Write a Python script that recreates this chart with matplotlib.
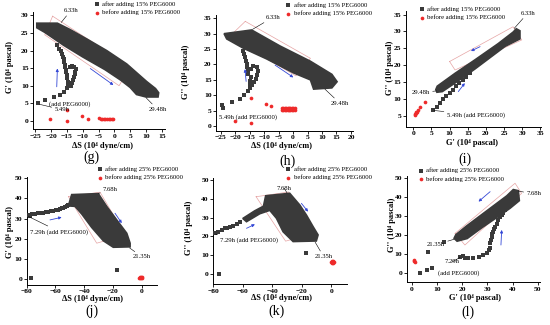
import matplotlib.pyplot as plt

plt.rcParams['font.family'] = ['Liberation Serif', 'DejaVu Serif']

W, H = 550, 325
DARK = '#3a3a3a'
RED = '#ee2a2a'
PINK = '#e6a4a4'
BLUE = '#3347d6'

# --- (g) G' vs dS, 15% PEG6000 ---
g_band_x = [-24.5, -18.0, -14.0, -8.7, -2.4, 3.9, 10.2, 13.0, 14.0, 13.8, 10.0, 7.0, 5.0, 2.0, -3.0, -10.0,
            -16.0, -22.0, -24.5]
g_band_y = [27.8, 27.8, 26.0, 23.3, 20.0, 16.2, 11.2, 9.2, 8.0, 6.8, 6.8, 7.5, 9.5, 11.6, 14.6, 18.2,
            21.5, 25.2, 26.5]
g_tail_x = [-24.0, -21.8, -19.2, -17.3, -16.0, -15.0, -14.5, -14.8, -15.0, -15.0, -15.2, -15.3, -15.5, -15.7,
            -16.0, -16.0, -16.3, -16.6, -17.0, -17.5, -18.2, -14.0, -13.6, -13.3, -13.0, -12.8, -12.5, -12.3,
            -12.1, -12.8, -13.5, -14.0]
g_tail_y = [5.0, 5.9, 6.7, 7.4, 8.1, 9.3, 10.2, 11.2, 12.3, 13.0, 13.8, 14.5, 15.2, 16.0, 16.8, 17.5, 18.3,
            19.0, 19.8, 20.5, 21.5, 22.5, 10.0, 10.8, 11.6, 12.4, 13.2, 14.0, 14.8, 15.4, 15.6, 15.2]
g_red_x = [-20.3, -15.0, -15.0, -10.3, -8.2, -4.8, -4.3, -3.8, -3.3, -2.8, -2.3, -1.8, -1.3, -0.8, -0.4]
g_red_y = [0.5, 3.0, 0.0, 1.4, 0.6, 0.7, 0.65, 0.6, 0.55, 0.5, 0.5, 0.45, 0.45, 0.4, 0.4]

# --- (h) G'' vs dS, 15% PEG6000 ---
h_band_x = [-23.8, -14.3, -4.5, 5.9, 13.4, 15.2, 13.4, 7.1, 6.0, 0.1, -9.1, -17.2, -22.9]
h_band_y = [30.0, 31.2, 26.0, 21.1, 16.8, 14.4, 12.4, 12.0, 15.0, 17.3, 21.8, 25.3, 28.3]
h_tail_x = [-24.6, -24.3, -21.2, -18.3, -16.9, -15.4, -15.0, -14.8, -14.7, -14.6, -15.4, -15.4, -16.0, -16.0,
            -16.3, -16.6, -16.9, -17.2, -14.3, -13.5, -12.8, -12.3, -12.0, -12.5, -13.7, -14.6]
h_tail_y = [6.8, 6.0, 7.9, 8.9, 10.2, 11.4, 12.4, 13.7, 14.7, 15.8, 16.9, 18.0, 19.1, 20.1, 21.2, 22.3, 23.3,
            24.4, 13.2, 14.2, 15.3, 16.7, 18.0, 19.1, 19.6, 18.5]
h_red_x = [-20.0, -14.5, -14.5, -9.5, -7.5, -3.9, -3.4, -2.9, -2.4, -1.9, -1.4, -0.9, -0.4, 0.1, 0.6,
           -3.9, -3.4, -2.9, -2.4, -1.9, -1.4, -0.9, -0.4, 0.1, 0.6]
h_red_y = [1.7, 0.9, 9.0, 7.3, 6.4, 5.3, 5.3, 5.3, 5.3, 5.3, 5.3, 5.3, 5.3, 5.3, 5.3,
           5.9, 5.9, 5.9, 5.9, 5.9, 5.9, 5.9, 5.9, 5.9, 5.9]

# --- (i) G'' vs G', 15% PEG6000 ---
i_band_x = [6.2, 6.6, 11.5, 17.0, 23.4, 27.5, 28.4, 29.4, 29.4, 25.3, 17.0, 12.4, 8.0, 6.5]
i_band_y = [12.8, 13.8, 17.6, 21.6, 26.4, 29.8, 30.8, 30.2, 27.8, 25.6, 18.9, 15.4, 12.2, 12.0]
i_tail_x = [5.5, 6.4, 7.3, 8.1, 9.0, 10.0, 10.9, 11.8, 12.7, 13.6, 14.5, 15.5]
i_tail_y = [6.8, 7.7, 8.9, 9.9, 10.9, 11.9, 12.8, 13.8, 14.6, 15.6, 16.6, 17.6]
i_red_x = [0.5, 0.6, 0.8, 1.0, 1.4, 0.7, 1.8, 3.2]
i_red_y = [5.3, 5.7, 6.0, 6.3, 6.6, 6.2, 7.6, 9.2]

# --- (j) G' vs dS, 25% PEG6000 ---
j_band_x = [-50.5, -48.7, -30.2, -24.3, -17.4, -10.4, -8.1, -8.1, -19.8, -26.7, -34.8, -41.7, -46.4, -50.5]
j_band_y = [37.5, 41.8, 42.3, 35.9, 29.3, 22.7, 17.8, 16.0, 15.8, 19.0, 25.6, 32.2, 36.0, 36.2]
j_tail_x = [-78.9, -77.5, -76.6, -74.3, -72.0, -70.2, -68.5, -66.8, -65.1, -63.3, -61.6, -59.8, -58.1,
            -56.9, -55.8, -54.6, -53.5, -52.3, -51.2, -77.0, -17.0]
j_tail_y = [31.8, 31.3, 32.1, 32.1, 32.6, 32.7, 32.9, 33.2, 33.4, 33.7, 33.9, 34.0, 34.2, 34.6, 35.0,
            35.2, 35.5, 36.0, 36.5, 0.8, 4.8]
j_red_x = [-1.6, -1.0, -0.4, 0.2, -1.3, -0.7, -0.1]
j_red_y = [0.6, 0.6, 0.6, 0.6, 1.1, 1.1, 1.1]

# --- (k) G'' vs dS, 25% PEG6000 ---
k_band_x = [-60.0, -52.0, -46.0, -44.5, -28.2, -21.4, -16.9, -12.4, -9.0, -10.2, -25.9, -32.7, -37.2, -41.7,
            -48.5, -57.5]
k_band_y = [29.5, 33.5, 36.0, 41.5, 42.8, 36.6, 31.3, 25.2, 20.8, 17.6, 17.3, 22.5, 29.6, 33.8, 32.0, 27.8]
k_tail_x = [-78.9, -76.6, -74.4, -72.1, -70.4, -68.7, -66.5, -64.2, -62.0, -76.0, -16.9]
k_tail_y = [21.7, 22.5, 23.4, 24.3, 24.6, 25.2, 25.7, 26.4, 27.5, 0.2, 11.1]
k_red_x = [0.0, 0.5, 1.0, 1.5, 0.8, 0.3]
k_red_y = [6.4, 6.2, 6.0, 6.3, 6.8, 6.9]

# --- (l) G'' vs G', 25% PEG6000 ---
l_band_x = [16.8, 17.5, 21.8, 29.7, 37.7, 40.3, 42.3, 42.7, 39.0, 33.0, 28.0, 22.0, 18.0]
l_band_y = [18.3, 20.2, 24.8, 32.6, 40.5, 43.8, 43.2, 38.0, 34.0, 28.5, 24.0, 18.2, 16.8]
l_tail_x = [19.2, 20.5, 21.2, 22.5, 24.5, 26.5, 28.4, 29.8, 30.7, 30.9, 31.1, 31.3, 31.7, 32.0, 32.4,
            32.8, 33.1, 33.7, 34.4, 35.0, 35.7, 36.4, 37.0, 3.3, 6.0, 7.9, 6.6, 13.0]
l_tail_y = [8.3, 9.0, 7.8, 7.8, 8.2, 8.7, 9.6, 10.5, 12.0, 13.1, 15.7, 17.5, 19.2, 20.5, 21.8, 23.0, 24.4,
            26.0, 27.9, 29.2, 30.5, 31.8, 33.1, 0.2, 1.7, 3.0, 11.1, 16.3]
l_red_x = [0.7, 0.9, 1.1]
l_red_y = [6.3, 6.8, 6.0]

leg15 = ["after adding 15% PEG6000", "before adding 15% PEG6000"]
leg25 = ["after adding 25% PEG6000", "before adding 25% PEG6000"]

fig = plt.figure(figsize=(5.5, 3.25), dpi=100)


def fx(px):
    return px / W


def fy(py):
    return 1 - py / H


def panel(box, band_x, band_y, tail_x, tail_y, red_x, red_y, labels):
    l, t, r, b = box
    ax = fig.add_axes([fx(l), fy(b), (r - l) / W, (b - t) / H])
    ax.fill(band_x, band_y, color=DARK, ec=DARK, lw=1.2, zorder=2)
    ax.scatter(tail_x, tail_y, s=6, marker='s', color=DARK, lw=0, zorder=3, label=labels[0])
    ax.scatter(red_x, red_y, s=7, color=RED, lw=0, zorder=3, label=labels[1])
    for side in ['top', 'right']:
        ax.spines[side].set_visible(False)
    for side in ['left', 'bottom']:
        ax.spines[side].set_linewidth(0.7)
    ax.tick_params(direction='out', length=2, width=0.6, labelsize=5.4, pad=1.2)
    return ax


def finish(ax, xlim, ylim, xticks, yticks, xlabel, ylabel, xl_pos, yl_pos, leg_pos, tag, tag_pos):
    ax.set_xlim(*xlim)
    ax.set_ylim(*ylim)
    ax.set_xticks(xticks)
    ax.set_yticks(yticks)
    for t in ax.get_xticklabels() + ax.get_yticklabels():
        t.set_fontweight('bold')
    ax.set_xlabel(xlabel, fontsize=6, fontweight='bold')
    ax.set_ylabel(ylabel, fontsize=6, fontweight='bold')
    ax.xaxis.set_label_coords(fx(xl_pos[0]), fy(xl_pos[1]), transform=fig.transFigure)
    ax.yaxis.set_label_coords(fx(yl_pos[0]), fy(yl_pos[1]), transform=fig.transFigure)
    ax.xaxis.label.set_va('center')
    ax.yaxis.label.set_va('center')
    ax.legend(loc='upper left', bbox_to_anchor=(fx(leg_pos[0] - 2), fy(leg_pos[1] - 4)),
              bbox_transform=fig.transFigure, frameon=False, borderpad=0, borderaxespad=0,
              handlelength=0.6, handletextpad=0.5, labelspacing=0.45, scatterpoints=1,
              prop={'size': 4.8})
    fig.text(fx(tag_pos[0]), fy(tag_pos[1]), tag, ha='center', va='center', fontsize=10)


def box(ax, xs, ys):
    ax.plot(xs + xs[:1], ys + ys[:1], color=PINK, lw=0.5, zorder=1)


def arrow(ax, start, end):
    ax.annotate('', xy=end, xytext=start,
                arrowprops=dict(arrowstyle='-|>', color=BLUE, lw=0.6, mutation_scale=4,
                                shrinkA=0, shrinkB=0), zorder=4)


def note(ax, text, txt, pt=None, ha='left'):
    props = None
    if pt is not None:
        props = dict(arrowstyle='-', lw=0.4, color='k', shrinkA=0, shrinkB=0)
    ax.annotate(text, xy=pt if pt is not None else txt, xytext=txt, fontsize=4.8, ha=ha, va='center',
                arrowprops=props, annotation_clip=False, zorder=5)


# --- (g) ---
ax = panel((33, 11.6, 165, 129.3), g_band_x, g_band_y, g_tail_x, g_tail_y, g_red_x, g_red_y, leg15)
box(ax, [-19.5, 5.0, 1.5, -22.0], [29.8, 15.4, 10.0, 24.5])
arrow(ax, (-18.2, 9.7), (-18.0, 14.9))
arrow(ax, (-7.6, 14.9), (-0.3, 10.2))
note(ax, "6.33h", (-16.1, 31.4), (-16.8, 28.0))
note(ax, "29.48h", (10.7, 3.3), (10.0, 6.6))
note(ax, "(add PEG6000)", (-20.5, 4.7))
note(ax, "5.49h", (-18.9, 3.2), (-23.6, 4.7))
finish(ax, (-25.7, 16), (-2.4, 31.1), range(-25, 16, 5), range(0, 31, 5),
       "ΔS (10⁴ dyne/cm)", "G' (10⁴ pascal)", (102, 146.5), (10, 66.7), (96.7, 5), "(g)", (91.7, 157))

# --- (h) ---
ax = panel((216, 15.2, 353.3, 130.7), h_band_x, h_band_y, h_tail_x, h_tail_y, h_red_x, h_red_y, leg15)
box(ax, [-16.5, 6.0, 1.0, -22.0], [34.0, 22.0, 16.3, 29.0])
arrow(ax, (-16.2, 14.5), (-16.6, 18.5))
arrow(ax, (-6.2, 19.8), (0.1, 15.8))
note(ax, "6.33h", (-9.5, 35.3), (-14.0, 31.4))
note(ax, "29.48h", (13.0, 7.4), (11.0, 12.0))
note(ax, "5.49h (add PEG6000)", (-25.5, 3.0))
finish(ax, (-26.6, 20.8), (-1.5, 36), range(-25, 21, 5), range(0, 36, 5),
       "ΔS (10⁴ dyne/cm)", "G'' (10⁴ pascal)", (281.7, 146.5), (186, 71.7), (288.3, 6), "(h)", (287.3, 161.7))

# --- (i) ---
ax = panel((405.7, 11.2, 541, 126.7), i_band_x, i_band_y, i_tail_x, i_tail_y, i_red_x, i_red_y, leg15)
box(ax, [10.0, 27.5, 29.9, 11.5], [21.1, 31.4, 27.5, 18.6])
arrow(ax, (18.4, 25.5), (15.9, 24.2))
arrow(ax, (12.4, 12.2), (14.2, 14.7))
note(ax, "6.33h", (29.5, 35.4), (27.8, 30.9))
note(ax, "29.48h", (-0.5, 11.9), (6.4, 12.4))
note(ax, "5.49h (add PEG6000)", (9.2, 5.3), (5.7, 6.6))
finish(ax, (-2.1, 35.2), (1.8, 36), range(0, 36, 5), range(5, 36, 5),
       "G' (10⁴ pascal)", "G'' (10⁴ pascal)", (471.7, 143.3), (390, 68), (421.7, 10), "(i)", (465, 159.5))

# --- (j) ---
ax = panel((26.7, 177, 156.7, 284.5), j_band_x, j_band_y, j_tail_x, j_tail_y, j_red_x, j_red_y, leg25)
box(ax, [-51.0, -29.0, -11.6, -31.3], [40.8, 43.0, 21.9, 17.8])
arrow(ax, (-63.8, 29.3), (-55.7, 30.6))
arrow(ax, (-18.6, 32.6), (-13.9, 27.7))
note(ax, "7.68h", (-27.0, 44.5), (-30.0, 42.4))
note(ax, "21.35h", (-6.0, 11.0), (-8.5, 15.5))
note(ax, "7.29h (add PEG6000)", (-77.5, 23.5), (-78.8, 31.0))
finish(ax, (-80, 10.4), (-2.6, 50.5), range(-80, 1, 20), range(0, 51, 10),
       "ΔS (10⁴ dyne/cm)", "G' (10⁴ pascal)", (92.7, 299), (10, 231.7), (100, 170), "(j)", (91.7, 311))

# --- (k) ---
ax = panel((213.3, 177.8, 346.7, 284.3), k_band_x, k_band_y, k_tail_x, k_tail_y, k_red_x, k_red_y, leg25)
box(ax, [-51.0, -29.0, -11.0, -31.0], [41.0, 43.5, 22.0, 17.5])
arrow(ax, (-57.5, 24.3), (-51.8, 26.4))
arrow(ax, (-20.3, 37.5), (-15.8, 33.1))
note(ax, "7.68h", (-37.2, 45.6), (-30.0, 43.0))
note(ax, "21.35h", (-11.5, 9.5), (-11.0, 17.0))
note(ax, "7.29h (add PEG6000)", (-75.5, 18.0), (-78.5, 21.2))
finish(ax, (-80, 10.4), (-5.3, 51), range(-80, 1, 20), range(0, 51, 10),
       "ΔS (10⁴ dyne/cm)", "G'' (10⁴ pascal)", (281.7, 298.5), (189.3, 228.3), (288.3, 170), "(k)", (276.7, 311))

# --- (l) ---
ax = panel((406.7, 175.8, 540, 282.3), l_band_x, l_band_y, l_tail_x, l_tail_y, l_red_x, l_red_y, leg25)
box(ax, [17.2, 41.0, 43.6, 21.1], [20.9, 47.1, 41.8, 14.8])
arrow(ax, (31.1, 42.7), (26.5, 37.5))
arrow(ax, (35.4, 14.8), (35.7, 22.7))
note(ax, "7.68h", (45.5, 41.5), (42.4, 43.0))
note(ax, "21.35h", (6.0, 15.0), (16.8, 17.8))
note(ax, "7.29h", (13.0, 6.0), (19.2, 8.3))
note(ax, "(add PEG6000)", (10.5, 0.2))
finish(ax, (-2, 50.9), (-4.7, 51), range(0, 51, 10), range(0, 51, 10),
       "G' (10⁴ pascal)", "G'' (10⁴ pascal)", (475, 298.5), (392, 225), (421, 171.7), "(l)", (468.3, 312))

fig.savefig('out.png', dpi=100)
